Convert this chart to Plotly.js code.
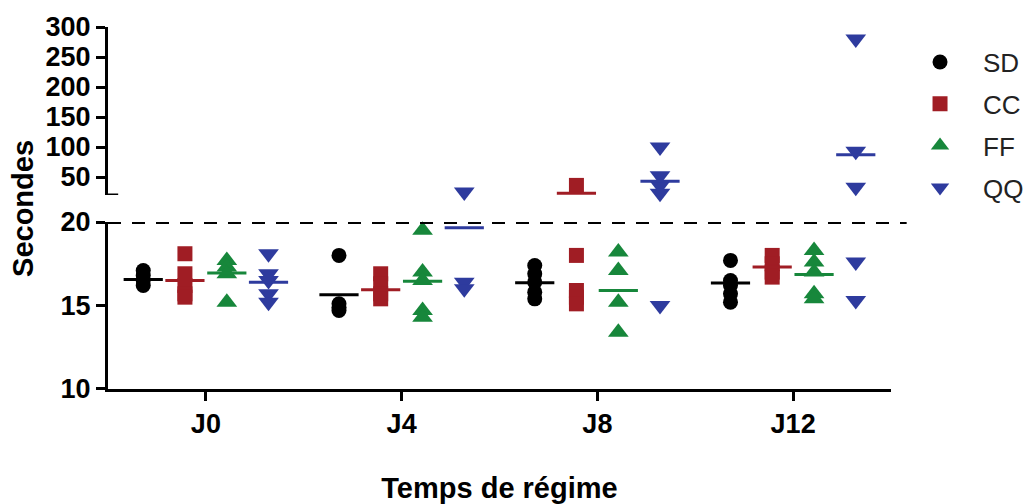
<!DOCTYPE html>
<html>
<head>
<meta charset="utf-8">
<script src="https://cdn.plot.ly/plotly-3.0.1.min.js"></script>
<style>html,body{margin:0;padding:0;background:#fff;}#chart{width:1027px;height:504px;}</style>
</head>
<body>
<div id="chart"></div>
<script>
// ---- data ----
const categories = ['J0', 'J4', 'J8', 'J12'];
const seriesNames = ['SD', 'CC', 'FF', 'QQ'];

const SD = [[17.1, 16.8, 16.5, 16.2], [18.0, 15.1, 14.9, 14.7], [17.4, 16.9, 16.4, 15.8, 15.4], [17.7, 16.5, 16.2, 15.7, 15.2]];
const CC = [[18.1, 16.9, 16.2, 15.7, 15.5], [16.9, 16.3, 15.7, 15.4], [36, 18.0, 15.9, 15.5, 15.1], [18.0, 17.5, 17.0, 16.7]];
const FF = [[17.7, 17.3, 16.9, 15.2], [19.5, 17.0, 16.5, 14.7, 14.3], [18.2, 17.1, 15.2, 13.4], [18.3, 17.6, 17.0, 15.7, 15.4]];
const QQ = [[18.1, 16.9, 16.5, 15.7, 15.2], [25, 16.4, 16.0], [100, 52, 36, 23, 15.0], [280, 93, 33, 17.6, 15.3]];

// plotted mean lines
const SD_mean = [16.55, 15.65, 16.37, 16.35];
const CC_mean = [16.5, 15.95, 23, 17.3];
const FF_mean = [16.95, 16.45, 15.9, 16.85];
const QQ_mean = [16.4, 19.65, 43, 87];

const lowerTicks = [10, 15, 20];
const upperTicks = [50, 100, 150, 200, 250, 300];
const breakValue = 20;

// ---- styling ----
const values = [SD, CC, FF, QQ];
const means = [SD_mean, CC_mean, FF_mean, QQ_mean];
const colors = ['#000000', '#a01d24', '#17873b', '#2e3b9e'];
const symbols = ['circle', 'square', 'triangle-up', 'triangle-down'];
const sizes = [15, 15, 18, 18];
const offsets = [-0.32, -0.107, 0.107, 0.32];

const traces = [];
seriesNames.forEach((name, k) => {
  const lo = {x: [], y: []}, hi = {x: [], y: []};
  values[k].forEach((grp, g) => {
    grp.forEach(v => {
      const t = v > breakValue ? hi : lo;
      t.x.push(g + offsets[k]); t.y.push(v);
    });
  });
  const mk = {symbol: symbols[k], size: sizes[k], color: colors[k], line: {width: 0}};
  traces.push({type: 'scatter', mode: 'markers', name: name, x: lo.x, y: lo.y, xaxis: 'x', yaxis: 'y',
    marker: mk, cliponaxis: false, legendgroup: name, hoverinfo: 'y'});
  traces.push({type: 'scatter', mode: 'markers', name: name, x: hi.x, y: hi.y, xaxis: 'x', yaxis: 'y2',
    marker: mk, cliponaxis: false, legendgroup: name, showlegend: false, hoverinfo: 'y'});
  const mlo = {x: [], y: []}, mhi = {x: [], y: []};
  means[k].forEach((m, g) => {
    const t = m > breakValue ? mhi : mlo;
    t.x.push(g + offsets[k]); t.y.push(m);
  });
  const mm = {symbol: 'line-ew', size: 28, color: colors[k], line: {width: 3, color: colors[k]}};
  traces.push({type: 'scatter', mode: 'markers', x: mlo.x, y: mlo.y, xaxis: 'x', yaxis: 'y',
    marker: mm, cliponaxis: false, showlegend: false, hoverinfo: 'y'});
  traces.push({type: 'scatter', mode: 'markers', x: mhi.x, y: mhi.y, xaxis: 'x', yaxis: 'y2',
    marker: mm, cliponaxis: false, showlegend: false, hoverinfo: 'y'});
});

const fam = 'Liberation Sans, Arial, sans-serif';
const tickFont = {family: fam, size: 27, weight: 'bold', color: '#000'};
const axisCommon = {showline: true, linewidth: 3, linecolor: '#000', ticks: 'outside', ticklen: 9, tickwidth: 3,
  tickcolor: '#000', showgrid: false, zeroline: false, tickfont: tickFont, fixedrange: true, automargin: false};

const layout = {
  width: 1027, height: 504,
  margin: {l: 108, r: 136, t: 27, b: 115, autoexpand: false},
  paper_bgcolor: '#fff', plot_bgcolor: '#fff',
  font: {family: fam, color: '#000'},
  showlegend: true,
  legend: {x: 1.0077, xanchor: 'left', y: 0.968, yanchor: 'top', itemwidth: 76, tracegroupgap: 5,
    traceorder: 'grouped', font: {family: fam, size: 26, color: '#222'},
    bgcolor: 'rgba(0,0,0,0)'},
  xaxis: Object.assign({}, axisCommon, {
    range: [-0.5, 3.5], tickvals: categories.map((c, i) => i), ticktext: categories, anchor: 'y',
    title: {text: 'Temps de régime', font: {family: fam, size: 29, weight: 'bold'}, standoff: 40}
  }),
  yaxis: Object.assign({}, axisCommon, {
    range: [10, 20], domain: [0, 0.4613], tickvals: lowerTicks, anchor: 'x'
  }),
  yaxis2: Object.assign({}, axisCommon, {
    range: [20, 300], domain: [0.5359, 1], tickvals: upperTicks, anchor: 'x'
  }),
  annotations: [
    {text: 'Secondes', xref: 'paper', yref: 'paper', x: -0.1086, y: 0.5, xanchor: 'center', yanchor: 'middle',
      textangle: -90, showarrow: false, font: {family: fam, size: 29, weight: 'bold', color: '#000'}}
  ],
  shapes: [
    {type: 'line', xref: 'paper', x0: 0, x1: 1.02, yref: 'y', y0: breakValue, y1: breakValue,
      line: {color: '#000', width: 4, dash: '13px,11px'}},
    {type: 'line', xref: 'paper', x0: 0, x1: 0.013, yref: 'y2', y0: breakValue, y1: breakValue,
      line: {color: '#000', width: 3}}
  ]
};

Plotly.newPlot('chart', traces, layout, {displayModeBar: false, staticPlot: true});
</script>
</body>
</html>
